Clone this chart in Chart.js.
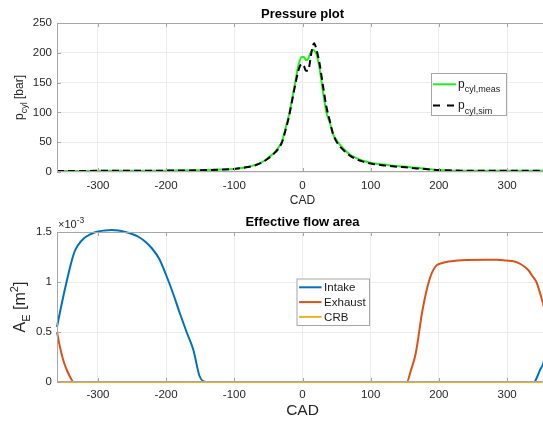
<!DOCTYPE html>
<html>
<head>
<meta charset="utf-8">
<script src="https://cdn.jsdelivr.net/npm/chart.js@4.4.1/dist/chart.umd.min.js"></script>
<style>
  html, body { margin: 0; padding: 0; background: #fff; overflow: hidden; width: 543px; height: 422px; }
  canvas { position: absolute; left: 0; }
  #pressureChart { top: 0; }
  #areaChart { top: 205px; }
</style>
</head>
<body>
<canvas id="pressureChart" width="548" height="210"></canvas>
<canvas id="areaChart" width="548" height="217"></canvas>
<script>
// tick positions
const cadTicks = [-300, -200, -100, 0, 100, 200, 300];
const pressureTicks = [0, 50, 100, 150, 200, 250];
const areaTicks = [0, 0.5, 1, 1.5];

// cylinder pressure [bar] over crank angle
const cadPressure = [-360, -300, -250, -200, -150, -120, -100, -80, -70, -60, -50, -40, -34, -30, -24, -20, -14, -10, -7, -4, -1, 2, 5, 8, 10, 13, 15, 17, 21, 25, 30, 35, 40, 45, 52, 60, 70, 80, 90, 103, 120, 138, 155, 167, 180, 200, 235, 300, 360];
const pCylMeas = [1.8, 1.9, 2.0, 2.3, 3.0, 4.0, 5.2, 8.5, 11.5, 16, 24, 34, 43, 52, 77, 95, 130, 155, 174, 187, 193, 193, 188, 189, 195, 202, 205, 204, 196, 174, 135, 100, 83, 63, 50, 39, 29, 23, 18.5, 14.6, 12.5, 10, 8.5, 7.2, 5.5, 3.4, 2.2, 2.0, 2.0];
const pCylSim = [1.8, 1.9, 2.0, 2.3, 3.0, 4.0, 5.2, 8.3, 11, 15.5, 23, 33, 41, 50, 74, 92, 127, 150, 166, 177, 181, 178, 170, 170, 178, 200, 211, 216, 203, 182, 145, 110, 86, 63, 47, 37, 27, 21, 17, 13.5, 11, 9, 7.5, 6, 5, 3.2, 2.2, 2.0, 2.0];

// effective flow areas, in 1e-3 m^2
const cadIntake = [-360, -355, -350, -345, -340, -335, -330, -320, -310, -300, -290, -280, -270, -260, -250, -240, -230, -220, -210, -200, -190, -180, -170, -160, -151, -141, 340, 344, 348, 353, 360];
const intakeArea = [0.55, 0.72, 0.88, 1.03, 1.17, 1.29, 1.36, 1.44, 1.48, 1.505, 1.515, 1.52, 1.515, 1.5, 1.48, 1.45, 1.4, 1.33, 1.23, 1.07, 0.89, 0.69, 0.5, 0.32, 0.06, 0, 0, 0.05, 0.117, 0.184, 0.45];
const cadExhaust = [-360, -355, -350, -345, -340, -336, 153, 159, 166, 176, 186, 195, 205, 215, 240, 270, 285, 298, 311, 322, 331, 337, 343, 350, 355, 360];
const exhaustArea = [0.5, 0.33, 0.2, 0.11, 0.04, 0, 0, 0.117, 0.285, 0.72, 1.02, 1.155, 1.19, 1.205, 1.22, 1.222, 1.222, 1.215, 1.205, 1.17, 1.12, 1.06, 1.0, 0.85, 0.72, 0.52];
const cadCrb = [-360, 360];
const crbArea = [0, 0];

const FONT = '"Liberation Sans", Arial, sans-serif';
const gridColor = '#ebebeb';
const frameColor = '#a6a6a6';
const tickColor = '#262626';

Chart.defaults.font.family = FONT;
Chart.defaults.animation = false;

const xy = (xs, ys) => xs.map((x, i) => ({x, y: ys[i]}));

// text with sub/superscripts: parts = [{t, size, dy}]
function richWidth(ctx, parts) {
  let w = 0;
  parts.forEach(p => { ctx.font = p.size + 'px ' + FONT; w += ctx.measureText(p.t).width; });
  return w;
}
function drawRich(ctx, parts, x, y, o) {
  ctx.save();
  ctx.translate(x, y);
  if (o.rotate) ctx.rotate(o.rotate);
  let cx = o.align === 'center' ? -richWidth(ctx, parts) / 2 : 0;
  ctx.fillStyle = o.color || tickColor;
  ctx.textAlign = 'left';
  ctx.textBaseline = 'alphabetic';
  parts.forEach(p => {
    ctx.font = p.size + 'px ' + FONT;
    ctx.fillText(p.t, cx, p.dy || 0);
    cx += ctx.measureText(p.t).width;
  });
  ctx.restore();
}

function drawLegend(chart, lg) {
  const ctx = chart.ctx;
  ctx.save();
  ctx.fillStyle = '#fff';
  ctx.fillRect(lg.x, lg.y, lg.w, lg.h);
  ctx.strokeStyle = frameColor;
  ctx.lineWidth = 1;
  ctx.strokeRect(lg.x + 0.5, lg.y + 0.5, lg.w, lg.h);
  lg.items.forEach((item, i) => {
    const ds = chart.data.datasets[item.dataset];
    const ly = lg.y + lg.first + i * lg.step;
    ctx.beginPath();
    ctx.strokeStyle = ds.borderColor;
    ctx.lineWidth = ds.borderWidth;
    ctx.setLineDash(item.dash || []);
    ctx.moveTo(lg.x + lg.line[0], ly);
    ctx.lineTo(lg.x + lg.line[1], ly);
    ctx.stroke();
    ctx.setLineDash([]);
    drawRich(ctx, item.label, lg.x + lg.textX, ly + lg.baseline, {color: '#1a1a1a'});
  });
  ctx.restore();
}

// box, inward ticks, rich y label, exponent and legend
const matlabAxes = {
  id: 'matlabAxes',
  afterDraw(chart, args, opts) {
    const {ctx, chartArea: a, scales: {x, y}} = chart;
    ctx.save();
    ctx.strokeStyle = frameColor;
    ctx.lineWidth = 1;
    ctx.strokeRect(a.left + 0.5, a.top + 0.5, a.right - a.left - 1, a.bottom - a.top - 1);
    ctx.beginPath();
    x.ticks.forEach(t => {
      const px = Math.round(x.getPixelForValue(t.value)) + 0.5;
      ctx.moveTo(px, a.bottom); ctx.lineTo(px, a.bottom - 4);
      ctx.moveTo(px, a.top); ctx.lineTo(px, a.top + 4);
    });
    y.ticks.forEach(t => {
      const py = Math.round(y.getPixelForValue(t.value)) + 0.5;
      ctx.moveTo(a.left, py); ctx.lineTo(a.left + 4, py);
      ctx.moveTo(a.right, py); ctx.lineTo(a.right - 4, py);
    });
    ctx.stroke();
    ctx.restore();
    drawRich(ctx, opts.yTitle, opts.yTitleX, (a.top + a.bottom) / 2, {rotate: -Math.PI / 2, align: 'center'});
    if (opts.exponent) drawRich(ctx, opts.exponent, a.left + 1, a.top - 4, {});
    if (opts.legend) drawLegend(chart, opts.legend);
  }
};

function cadAxis(tickPad, titleSize, titlePad, height) {
  return {
    type: 'linear', min: -360, max: 360,
    afterBuildTicks: s => { s.ticks = cadTicks.map(v => ({value: v})); },
    afterFit: s => { s.height = height; s.paddingLeft = 0; s.paddingRight = 0; },
    grid: {color: gridColor, drawTicks: false},
    border: {display: false},
    ticks: {font: {size: 11.5}, color: tickColor, padding: tickPad, maxRotation: 0, callback: v => String(v)},
    title: {display: true, text: 'CAD', font: {size: titleSize}, color: tickColor, padding: {top: 0, bottom: titlePad}}
  };
}
function valueAxis(ticks, max) {
  return {
    type: 'linear', min: 0, max,
    afterBuildTicks: s => { s.ticks = ticks.map(v => ({value: v})); },
    afterFit: s => { s.width = 57; s.paddingTop = 0; s.paddingBottom = 0; },
    grid: {color: gridColor, drawTicks: false},
    border: {display: false},
    ticks: {font: {size: 11.5}, color: tickColor, padding: 5, callback: v => String(v)}
  };
}
function titleOpts(text, top, bottom) {
  return {display: true, text, fullSize: false, color: '#000', font: {size: 13, weight: 'bold'}, padding: {top, bottom}};
}

new Chart(document.getElementById('pressureChart'), {
  type: 'line',
  data: {
    datasets: [
      {label: 'p_cyl,meas', data: xy(cadPressure, pCylMeas), borderColor: '#1ef01e', borderWidth: 2, pointRadius: 0, cubicInterpolationMode: 'monotone', order: 1},
      {label: 'p_cyl,sim', data: xy(cadPressure, pCylSim), borderColor: '#000', borderWidth: 2, borderDash: [7, 4], pointRadius: 0, cubicInterpolationMode: 'monotone', order: 0}
    ]
  },
  options: {
    responsive: false,
    layout: {padding: 0},
    scales: {x: cadAxis(7, 12, 2.3, 38), y: valueAxis(pressureTicks, 250)},
    plugins: {
      legend: {display: false},
      tooltip: {enabled: false},
      title: titleOpts('Pressure plot', 6.7, 0.7),
      matlabAxes: {
        yTitleX: 23,
        yTitle: [{t: 'p', size: 12}, {t: 'cyl', size: 9, dy: 3.5}, {t: ' [bar]', size: 12}],
        legend: {
          x: 431, y: 73, w: 75, h: 42, first: 11.3, step: 21.2, line: [2, 25], textX: 27, baseline: 3.5,
          items: [
            {dataset: 0, label: [{t: 'p', size: 12}, {t: 'cyl,meas', size: 9, dy: 4.5}]},
            {dataset: 1, dash: [7, 7], label: [{t: 'p', size: 12}, {t: 'cyl,sim', size: 9, dy: 4.5}]}
          ]
        }
      }
    }
  },
  plugins: [matlabAxes]
});

new Chart(document.getElementById('areaChart'), {
  type: 'line',
  data: {
    datasets: [
      {label: 'Intake', data: xy(cadIntake, intakeArea), borderColor: '#0072bd', borderWidth: 2, pointRadius: 0, cubicInterpolationMode: 'monotone', clip: 4, order: 2},
      {label: 'Exhaust', data: xy(cadExhaust, exhaustArea), borderColor: '#d95319', borderWidth: 2, pointRadius: 0, cubicInterpolationMode: 'monotone', clip: 4, order: 1},
      {label: 'CRB', data: xy(cadCrb, crbArea), borderColor: '#edb120', borderWidth: 2, pointRadius: 0, clip: 4, order: 0}
    ]
  },
  options: {
    responsive: false,
    layout: {padding: 0},
    scales: {x: cadAxis(6, 15.5, 2, 40), y: valueAxis(areaTicks, 1.5)},
    plugins: {
      legend: {display: false},
      tooltip: {enabled: false},
      title: titleOpts('Effective flow area', 9.2, 2.2),
      matlabAxes: {
        yTitleX: 25,
        yTitle: [{t: 'A', size: 16}, {t: 'E', size: 11, dy: 5}, {t: ' [m', size: 16}, {t: '2', size: 11, dy: -7}, {t: ']', size: 16}],
        exponent: [{t: '\u00d710', size: 11}, {t: '-3', size: 8.5, dy: -5}],
        legend: {
          x: 296.5, y: 73.5, w: 72.5, h: 46.5, first: 8.8, step: 14.8, line: [2.6, 25], textX: 27.6, baseline: 4.1,
          items: [
            {dataset: 0, label: [{t: 'Intake', size: 11.5}]},
            {dataset: 1, label: [{t: 'Exhaust', size: 11.5}]},
            {dataset: 2, label: [{t: 'CRB', size: 11.5}]}
          ]
        }
      }
    }
  },
  plugins: [matlabAxes]
});
</script>
</body>
</html>
